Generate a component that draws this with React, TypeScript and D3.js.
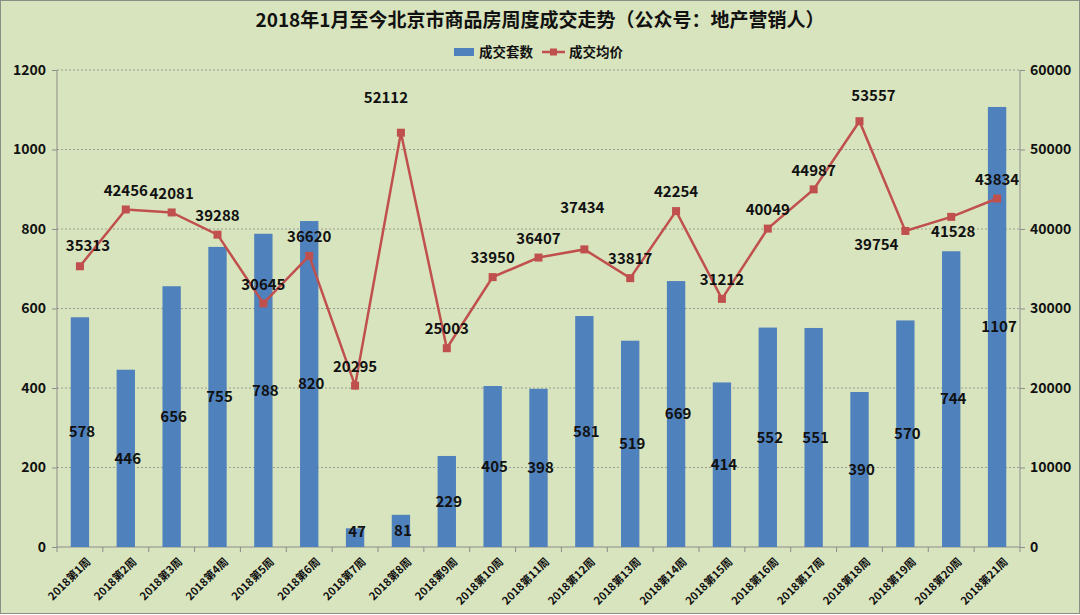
import React, { useEffect, useRef } from "react";
import * as d3 from "d3";

// weekly data, Beijing new homes 2018
const weeks = [
  "2018第1周", "2018第2周", "2018第3周", "2018第4周", "2018第5周", "2018第6周", "2018第7周",
  "2018第8周", "2018第9周", "2018第10周", "2018第11周", "2018第12周", "2018第13周", "2018第14周",
  "2018第15周", "2018第16周", "2018第17周", "2018第18周", "2018第19周", "2018第20周", "2018第21周",
];
const units = [578, 446, 656, 755, 788, 820, 47, 81, 229, 405, 398, 581, 519, 669, 414, 552, 551, 390, 570, 744, 1107];
const avgPrice = [
  35313, 42456, 42081, 39288, 30645, 36620, 20295, 52112, 25003, 33950, 36407, 37434, 33817, 42254,
  31212, 40049, 44987, 53557, 39754, 41528, 43834,
];
const leftTicks = [0, 200, 400, 600, 800, 1000, 1200];
const rightTicks = [0, 10000, 20000, 30000, 40000, 50000, 60000];

// where each price label sits relative to its point (label layout, not data)
const priceLabelNudge: Record<number, [number, number]> = {
  0: [8, -21],
  7: [-15, -35],
  11: [-2, -42],
  17: [14, -25],
  18: [-29, 14],
  19: [2, 15],
};

const FONT = "'Noto Sans CJK SC', 'Noto Sans', sans-serif";

export default function App() {
  const ref = useRef<SVGSVGElement>(null);

  useEffect(() => {
    const width = 1080;
    const height = 615;
    const margin = { top: 70, right: 60, bottom: 68, left: 57 };
    const innerW = width - margin.left - margin.right;
    const innerH = height - margin.top - margin.bottom;

    const svg = d3.select(ref.current);
    svg.selectAll("*").remove();

    svg.append("rect").attr("x", 0.5).attr("y", 0.5)
      .attr("width", width - 1).attr("height", height - 2)
      .attr("fill", "#d8e4bd").attr("stroke", "#8a8f86");

    const g = svg.append("g").attr("transform", `translate(${margin.left},${margin.top})`);

    const x = d3.scaleBand().domain(weeks).range([0, innerW]).paddingInner(0).paddingOuter(0);
    const yL = d3.scaleLinear().domain([0, 1200]).range([innerH, 0]);
    const yR = d3.scaleLinear().domain([0, 60000]).range([innerH, 0]);

    // gridlines
    g.selectAll(".grid").data(leftTicks.filter(d => d > 0)).join("line")
      .attr("x1", 0).attr("x2", innerW)
      .attr("y1", d => yL(d)).attr("y2", d => yL(d))
      .attr("stroke", "#8c8c8c").attr("stroke-width", 0.8).attr("stroke-dasharray", "2,2");

    // left axis
    const left = g.append("g")
      .call(d3.axisLeft(yL).tickValues(leftTicks).tickFormat(d3.format("d")).tickSize(5).tickPadding(6));
    left.select(".domain").attr("stroke", "#8c8c8c").attr("d", `M0,0V${innerH}`);
    left.selectAll(".tick line").attr("stroke", "#8c8c8c");
    left.selectAll("text").attr("font-family", FONT).attr("font-weight", "bold")
      .attr("font-size", 14).attr("fill", "#111");

    // right axis
    const right = g.append("g").attr("transform", `translate(${innerW},0)`)
      .call(d3.axisRight(yR).tickValues(rightTicks).tickFormat(d3.format("d")).tickSize(5).tickPadding(5));
    right.select(".domain").attr("stroke", "#8c8c8c").attr("d", `M0,0V${innerH}`);
    right.selectAll(".tick line").attr("stroke", "#8c8c8c");
    right.selectAll("text").attr("font-family", FONT).attr("font-weight", "bold")
      .attr("font-size", 14).attr("fill", "#111");

    // bottom axis with ticks at category boundaries
    const bottom = g.append("g").attr("transform", `translate(0,${innerH})`);
    bottom.append("line").attr("x1", 0).attr("x2", innerW).attr("stroke", "#8c8c8c");
    bottom.selectAll(".bt").data(d3.range(weeks.length + 1)).join("line")
      .attr("x1", i => i * x.bandwidth()).attr("x2", i => i * x.bandwidth())
      .attr("y1", 0).attr("y2", 5).attr("stroke", "#8c8c8c");
    bottom.selectAll(".xl").data(weeks).join("text")
      .attr("transform", d => `translate(${x(d)! + x.bandwidth() / 2 + 6},${10}) rotate(-45)`)
      .attr("text-anchor", "end").attr("dy", "0.7em")
      .attr("font-family", FONT).attr("font-weight", "bold").attr("font-size", 11)
      .attr("fill", "#111").text(d => d);

    // bars
    const barW = x.bandwidth() * 0.4;
    g.selectAll(".bar").data(units).join("rect")
      .attr("x", (d, i) => x(weeks[i])! + (x.bandwidth() - barW) / 2)
      .attr("y", d => yL(d)).attr("width", barW).attr("height", d => innerH - yL(d))
      .attr("fill", "#4f81bd");

    // line
    const line = d3.line<number>()
      .x((d, i) => x(weeks[i])! + x.bandwidth() / 2)
      .y(d => yR(d));
    g.append("path").datum(avgPrice).attr("d", line)
      .attr("fill", "none").attr("stroke", "#c0504d").attr("stroke-width", 2.5);
    g.selectAll(".mk").data(avgPrice).join("rect")
      .attr("x", (d, i) => x(weeks[i])! + x.bandwidth() / 2 - 4)
      .attr("y", d => yR(d) - 4).attr("width", 8).attr("height", 8)
      .attr("fill", "#c0504d");

    // bar labels at bar centre
    g.selectAll(".bl").data(units).join("text")
      .attr("x", (d, i) => x(weeks[i])! + x.bandwidth() / 2 + 2)
      .attr("y", d => Math.min((yL(d) + innerH) / 2, innerH - 15))
      .attr("dy", "0.35em").attr("text-anchor", "middle")
      .attr("font-family", FONT).attr("font-weight", "bold").attr("font-size", 15)
      .attr("fill", "#111").text(d => d);

    // price labels
    g.selectAll(".pl").data(avgPrice).join("text")
      .attr("x", (d, i) => x(weeks[i])! + x.bandwidth() / 2 + (priceLabelNudge[i]?.[0] ?? 0))
      .attr("y", (d, i) => yR(d) + (priceLabelNudge[i]?.[1] ?? -19))
      .attr("dy", "0.35em").attr("text-anchor", "middle")
      .attr("font-family", FONT).attr("font-weight", "bold").attr("font-size", 15)
      .attr("fill", "#111").text(d => d);

    // title
    svg.append("text").attr("x", 540).attr("y", 20).attr("dy", "0.35em")
      .attr("text-anchor", "middle").attr("font-family", FONT).attr("font-weight", "bold")
      .attr("font-size", 19).attr("fill", "#111")
      .text("2018年1月至今北京市商品房周度成交走势（公众号：地产营销人）");

    // legend
    const lg = svg.append("g").attr("transform", "translate(454,52)");
    lg.append("rect").attr("x", 0).attr("y", -4).attr("width", 20).attr("height", 8).attr("fill", "#4f81bd");
    lg.append("text").attr("x", 25).attr("dy", "0.35em").attr("font-family", FONT)
      .attr("font-weight", "bold").attr("font-size", 13.5).attr("fill", "#111").text("成交套数");
    lg.append("line").attr("x1", 88).attr("x2", 111).attr("stroke", "#c0504d").attr("stroke-width", 2.5);
    lg.append("rect").attr("x", 96).attr("y", -3.5).attr("width", 7).attr("height", 7).attr("fill", "#c0504d");
    lg.append("text").attr("x", 115).attr("dy", "0.35em").attr("font-family", FONT)
      .attr("font-weight", "bold").attr("font-size", 13.5).attr("fill", "#111").text("成交均价");
  }, []);

  return (
    <svg ref={ref} width={1080} height={615}
      style={{ position: "absolute", left: 0, top: 0, display: "block" }} />
  );
}
